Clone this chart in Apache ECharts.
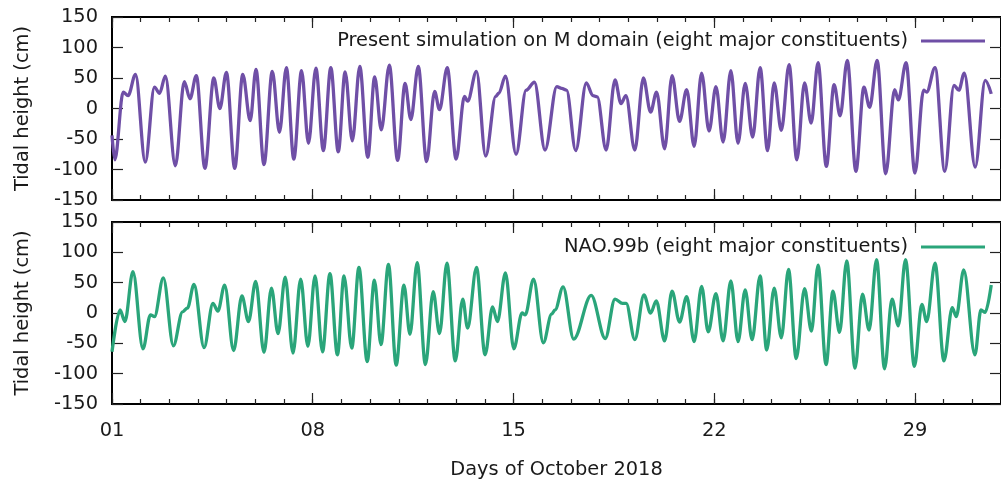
<!DOCTYPE html>
<html><head><meta charset="utf-8">
<script src="https://cdn.jsdelivr.net/npm/echarts@6/dist/echarts.min.js"></script>
<style>html,body{margin:0;padding:0;background:#fff}#c{width:1001px;height:484px}</style>
</head><body><div id="c"></div>
<script>
// Tick labels (days of October 2018, every 7 days starting at day 01)
const xTickLabels = ['01', '08', '15', '22', '29'];
// Time in days since 2018-10-01 00:00 (turning points and shoulders)
const topDays = [0.00,0.10,0.39,0.56,0.82,1.16,1.48,1.66,1.86,2.21,2.52,2.72,2.94,3.24,3.55,3.76,3.99,4.28,4.56,4.82,5.02,5.30,5.59,5.84,6.08,6.34,6.61,6.85,7.11,7.37,7.63,7.89,8.13,8.38,8.64,8.92,9.16,9.39,9.67,9.96,10.22,10.42,10.68,10.97,11.25,11.42,11.69,12.00,12.29,12.40,12.71,13.03,13.38,13.49,13.72,14.09,14.44,14.73,15.10,15.51,15.68,15.85,16.17,16.54,16.77,16.92,17.23,17.54,17.75,17.92,18.23,18.53,18.78,18.99,19.27,19.53,19.79,20.04,20.30,20.56,20.82,21.06,21.31,21.58,21.83,22.08,22.34,22.60,22.86,23.09,23.34,23.61,23.88,24.15,24.38,24.62,24.91,25.18,25.39,25.64,25.94,26.22,26.42,26.68,26.98,27.29,27.42,27.69,28.00,28.30,28.41,28.70,29.04,29.36,29.53,29.72,30.10,30.45,30.66];
const topHeights = [-44,-84,27,21,56,-88,35,25,53,-94,44,16,54,-98,50,0,59,-98,56,-20,64,-92,61,-39,67,-83,62,-57,66,-69,67,-71,60,-53,69,-80,52,-35,71,-85,41,-18,69,-87,28,-2,67,-83,20,12,61,-78,20,25,53,-75,30,43,-68,36,33,30,-69,42,21,19,-68,47,8,21,-68,50,-6,27,-66,54,-21,31,-62,58,-37,36,-55,62,-57,41,-47,67,-69,42,-36,72,-84,42,-24,75,-95,39,-12,79,-103,35,2,79,-107,31,14,75,-106,30,27,67,-103,38,30,58,-96,46,24];
const botDays = [0.00,0.28,0.45,0.73,1.08,1.34,1.48,1.79,2.14,2.46,2.63,2.86,3.21,3.52,3.69,3.93,4.24,4.53,4.76,5.01,5.30,5.56,5.79,6.04,6.31,6.58,6.83,7.08,7.34,7.60,7.86,8.09,8.36,8.61,8.90,9.15,9.38,9.64,9.91,10.18,10.39,10.64,10.93,11.20,11.42,11.68,11.97,12.23,12.40,12.71,13.01,13.27,13.44,13.72,14.01,14.30,14.41,14.70,15.04,15.33,15.45,15.73,16.10,16.71,17.20,17.54,17.80,17.93,18.23,18.55,18.78,18.98,19.27,19.53,19.79,20.04,20.30,20.56,20.79,21.06,21.31,21.58,21.83,22.08,22.32,22.60,22.83,23.09,23.34,23.59,23.86,24.15,24.39,24.62,24.90,25.14,25.37,25.62,25.91,26.17,26.40,26.66,26.94,27.20,27.42,27.67,27.98,28.24,28.41,28.70,29.01,29.30,29.44,29.70,30.09,30.30,30.45,30.66];
const botHeights = [-64,5,-14,68,-59,-3,-6,58,-54,2,8,47,-57,16,3,46,-62,28,-14,52,-65,41,-34,59,-66,56,-55,61,-64,65,-69,61,-58,75,-80,54,-52,80,-86,46,-35,83,-85,35,-34,82,-79,23,-25,75,-69,10,-14,66,-59,0,-3,56,-49,-2,5,43,-43,29,-42,23,16,16,-44,30,0,20,-46,36,-15,27,-47,44,-31,32,-46,53,-47,38,-44,61,-61,41,-41,72,-75,40,-30,79,-85,36,-32,86,-91,31,-28,88,-92,23,-21,88,-88,14,-14,82,-79,9,-6,71,-69,5,1,46];
const topName = 'Present simulation on M domain (eight major constituents)';
const botName = 'NAO.99b (eight major constituents)';

const FONT = 'DejaVu Sans';
const FS = 19.4;
const TXT = '#1a1a1a';
const PURPLE = '#6f4fa6';
const GREEN = '#2aa57a';

const zip = (a, b) => a.map((v, i) => [v, b[i]]);

function xAxes(g, withLabels) {
  const base = {
    gridIndex: g, type: 'value', min: 0, max: 31,
    axisLine: { show: false, onZero: false },
    splitLine: { show: false },
    axisLabel: { show: false }
  };
  const major = (pos) => Object.assign({}, base, {
    position: pos, interval: 7,
    axisTick: { inside: true, length: 11, lineStyle: { color: '#222', width: 1.2 } }
  });
  const minor = (pos) => Object.assign({}, base, {
    position: pos, interval: 1,
    axisTick: { inside: true, length: 5, lineStyle: { color: '#222', width: 1.2 } }
  });
  const bm = major('bottom');
  if (withLabels) {
    bm.axisLabel = {
      show: true, showMaxLabel: false, margin: 17,
      fontFamily: FONT, fontSize: FS, color: TXT,
      formatter: (v) => xTickLabels[Math.round(v / 7)] || ''
    };
    bm.name = 'Days of October 2018';
    bm.nameLocation = 'middle';
    bm.nameGap = 56;
    bm.nameTextStyle = { fontFamily: FONT, fontSize: FS, color: TXT };
  }
  return [bm, minor('bottom'), major('top'), minor('top')];
}
function yAxes(g) {
  const base = {
    gridIndex: g, type: 'value', min: -150, max: 150, interval: 50,
    axisLine: { show: false, onZero: false },
    splitLine: { show: false },
    axisTick: { inside: true, length: 11, lineStyle: { color: '#222', width: 1.2 } }
  };
  return [
    Object.assign({}, base, {
      position: 'left',
      axisLabel: { margin: 14, fontFamily: FONT, fontSize: FS, color: TXT },
      name: 'Tidal height (cm)', nameLocation: 'middle', nameGap: 80,
      nameTextStyle: { fontFamily: FONT, fontSize: FS, color: TXT }
    }),
    Object.assign({}, base, { position: 'right', axisLabel: { show: false } })
  ];
}
const legendBase = {
  orient: 'horizontal', align: 'right', right: 16, icon: 'rect', padding: 0,
  itemWidth: 64, itemHeight: 3,
  textStyle: { fontFamily: FONT, fontSize: FS, color: TXT, lineHeight: 22, padding: [0, 8, 0, 0] }
};

const option = {
  animation: false,
  backgroundColor: '#fff',
  grid: [
    { left: 112, top: 17, width: 898, height: 183, show: true, borderColor: '#000', borderWidth: 2, backgroundColor: 'transparent' },
    { left: 112, top: 222, width: 898, height: 182, show: true, borderColor: '#000', borderWidth: 2, backgroundColor: 'transparent' }
  ],
  xAxis: [...xAxes(0, false), ...xAxes(1, true)],
  yAxis: [...yAxes(0), ...yAxes(1)],
  legend: [
    Object.assign({}, legendBase, { top: 30, data: [topName] }),
    Object.assign({}, legendBase, { top: 236, data: [botName] })
  ],
  series: [
    {
      name: topName, type: 'line', xAxisIndex: 0, yAxisIndex: 0,
      data: zip(topDays, topHeights), showSymbol: false, symbol: 'none',
      smooth: 0.34, smoothMonotone: 'x',
      lineStyle: { color: PURPLE, width: 3.3 }, itemStyle: { color: PURPLE }
    },
    {
      name: botName, type: 'line', xAxisIndex: 4, yAxisIndex: 2,
      data: zip(botDays, botHeights), showSymbol: false, symbol: 'none',
      smooth: 0.34, smoothMonotone: 'x',
      lineStyle: { color: GREEN, width: 3.3 }, itemStyle: { color: GREEN }
    }
  ]
};
const chart = echarts.init(document.getElementById('c'), null, { renderer: 'canvas' });
chart.setOption(option);
</script>
</body></html>
